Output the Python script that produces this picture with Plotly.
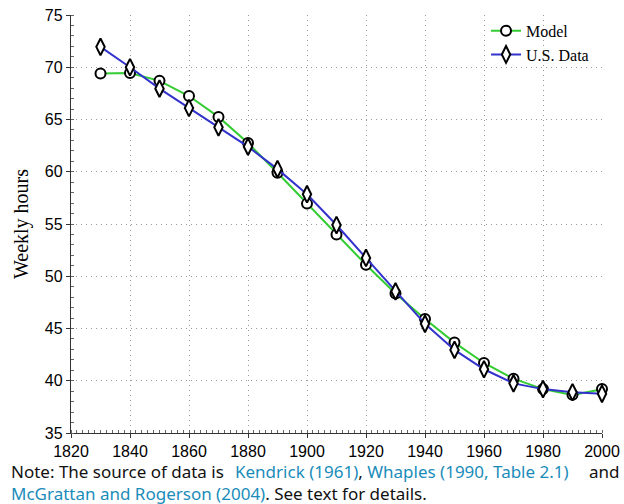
import plotly.graph_objects as go

years = [1830, 1840, 1850, 1860, 1870, 1880, 1890, 1900, 1910, 1920,
         1930, 1940, 1950, 1960, 1970, 1980, 1990, 2000]
model = [69.4, 69.45, 68.7, 67.25, 65.25, 62.75, 59.9, 56.95, 54.0, 51.1,
         48.35, 45.9, 43.65, 41.7, 40.2, 39.2, 38.65, 39.2]
us_data = [71.95, 70.0, 67.95, 66.1, 64.25, 62.4, 60.25, 57.85, 54.9, 51.75,
           48.55, 45.45, 42.95, 41.1, 39.75, 39.2, 38.9, 38.75]

x_ticks = list(range(1820, 2001, 20))
y_ticks = list(range(35, 76, 5))

fig = go.Figure()
fig.add_trace(go.Scatter(
    x=years, y=model, name="Model", mode="lines+markers", cliponaxis=False,
    line=dict(color="#33cc33", width=2),
    marker=dict(symbol="circle", size=10, color="white",
                line=dict(color="black", width=2)),
))
fig.add_trace(go.Scatter(
    x=years, y=us_data, name="U.S. Data", mode="lines+markers", cliponaxis=False,
    line=dict(color="#3333cc", width=2),
    marker=dict(symbol="diamond-tall", size=12, color="white",
                line=dict(color="black", width=2)),
))

axis_common = dict(
    showline=True, linecolor="#333333", linewidth=1.3,
    showgrid=True, gridcolor="#999999", griddash="1px,4px", gridwidth=1,
    ticks="outside", ticklen=4, tickcolor="#333333",
    tickfont=dict(family="Liberation Sans, Arial", size=16, color="black"),
    zeroline=False, mirror=False, automargin=False,
)

fig.update_xaxes(range=[1820, 2000], tickvals=x_ticks,
                 minor=dict(ticks="inside", ticklen=3, dtick=2, tickcolor="#666666", showgrid=False),
                 **axis_common)
fig.update_yaxes(range=[35, 75], tickvals=y_ticks,
                 title=dict(text="Weekly hours", font=dict(family="Liberation Serif, Times New Roman", size=20, color="black"), standoff=10),
                 minor=dict(ticks="inside", ticklen=3, dtick=1, tickcolor="#666666", showgrid=False),
                 **axis_common)

link = "#1a8cba"
note_font = dict(family="Noto Sans", size=17, color="#111111")
line1a = "Note: The source of data is"
line1b = ("<span style='color:%s'>Kendrick (1961)</span>, "
          "<span style='color:%s'>Whaples (1990, Table 2.1)</span>") % (link, link)
line2 = ("<span style='color:%s'>McGrattan and Rogerson (2004)</span>. See text for details.") % link

y1, y2 = -0.059, -0.112
fig.add_annotation(text=line1a, xref="paper", yref="paper", x=-0.116, y=y1,
                   xanchor="left", yanchor="top", showarrow=False, font=note_font)
fig.add_annotation(text=line1b, xref="paper", yref="paper", x=0.305, y=y1,
                   xanchor="left", yanchor="top", showarrow=False, font=note_font)
fig.add_annotation(text="and", xref="paper", yref="paper", x=1.038, y=y1,
                   xanchor="right", yanchor="top", showarrow=False, font=note_font)
fig.add_annotation(text=line2, xref="paper", yref="paper", x=-0.116, y=y2,
                   xanchor="left", yanchor="top", showarrow=False, font=note_font)

fig.update_layout(
    width=624, height=504,
    margin=dict(l=71, r=22, t=15, b=71),
    paper_bgcolor="white", plot_bgcolor="white",
    legend=dict(x=0.985, y=1.003, xanchor="right", yanchor="top",
                bgcolor="rgba(0,0,0,0)",
                font=dict(family="Liberation Serif, Times New Roman", size=16, color="black"),
                tracegroupgap=0, itemwidth=30),
    showlegend=True,
)

fig.write_html("out.html")
